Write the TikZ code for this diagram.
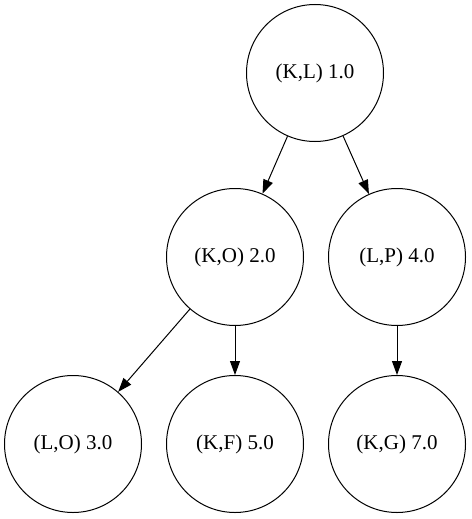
\documentclass[tikz,border=0pt]{standalone}
\usepackage{fontspec}
\setmainfont{Liberation Serif}
\usetikzlibrary{arrows.meta}
\begin{document}
\begin{tikzpicture}[x=1pt,y=-1pt,
  treenode/.style={circle,draw,line width=1pt,minimum size=137pt,inner sep=0pt,
    font=\fontsize{21}{25}\selectfont},
  edge/.style={line width=1pt,-{Triangle[length=14pt,width=10pt]}}]
  \useasboundingbox (0,0) rectangle (471,519);
  % tree nodes
  \node[treenode] (kl) at (315,73)  {(K,L) 1.0};
  \node[treenode] (ko) at (235,257) {(K,O) 2.0};
  \node[treenode] (lp) at (397,257) {(L,P) 4.0};
  \node[treenode] (lo) at (73,444)  {(L,O) 3.0};
  \node[treenode] (kf) at (235,444) {(K,F) 5.0};
  \node[treenode] (kg) at (397,444) {(K,G) 7.0};
  % edges
  \draw[edge] (kl) -- (ko);
  \draw[edge] (kl) -- (lp);
  \draw[edge] (ko) -- (lo);
  \draw[edge] (ko) -- (kf);
  \draw[edge] (lp) -- (kg);
\end{tikzpicture}
\end{document}
